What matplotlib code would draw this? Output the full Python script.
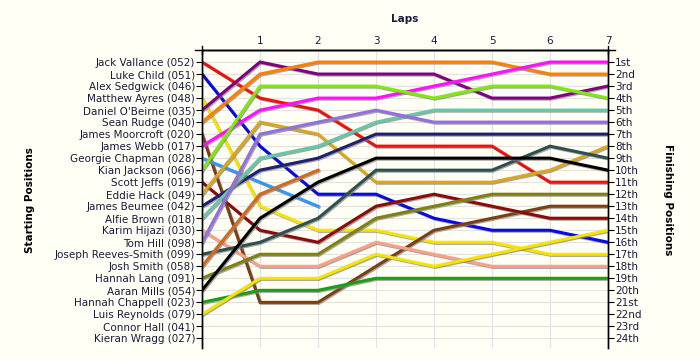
import matplotlib
matplotlib.use("Agg")
import matplotlib.pyplot as plt
import matplotlib.patheffects as pe

# starting grid order (top to bottom)
drivers = [
    "Jack Vallance (052)", "Luke Child (051)", "Alex Sedgwick (046)",
    "Matthew Ayres (048)", "Daniel O'Beirne (035)", "Sean Rudge (040)",
    "James Moorcroft (020)", "James Webb (017)", "Georgie Chapman (028)",
    "Kian Jackson (066)", "Scott Jeffs (019)", "Eddie Hack (049)",
    "James Beumee (042)", "Alfie Brown (018)", "Karim Hijazi (030)",
    "Tom Hill (098)", "Joseph Reeves-Smith (099)", "Josh Smith (058)",
    "Hannah Lang (091)", "Aaran Mills (054)", "Hannah Chappell (023)",
    "Luis Reynolds (079)", "Connor Hall (041)", "Kieran Wragg (027)",
]

finish_labels = ["1st", "2nd", "3rd", "4th", "5th", "6th", "7th", "8th",
                 "9th", "10th", "11th", "12th", "13th", "14th", "15th",
                 "16th", "17th", "18th", "19th", "20th", "21st", "22nd",
                 "23rd", "24th"]

laps = [0, 1, 2, 3, 4, 5, 6, 7]

# position after each lap (lap 0 = grid); shorter lists = retired
pos_vallance  = [1, 4, 5, 8, 8, 8, 11, 11]
pos_child     = [2, 8, 12, 12, 14, 15, 15, 16]
pos_ayres     = [4, 13, 15, 15, 16, 16, 17, 17]
pos_obeirne   = [5, 1, 2, 2, 2, 4, 4, 3]
pos_rudge     = [6, 2, 1, 1, 1, 1, 2, 2]
pos_moorcroft = [7, 21, 21, 18, 15, 14, 13, 13]
pos_webb      = [8, 5, 4, 4, 3, 2, 1, 1]
pos_chapman   = [9, 11, 13]
pos_jackson   = [10, 3, 3, 3, 4, 3, 3, 4]
pos_jeffs     = [11, 15, 16, 13, 12, 13, 14, 14]
pos_hack      = [12, 6, 7, 11, 11, 11, 10, 8]
pos_beumee    = [13, 10, 9, 7, 7, 7, 7, 7]
pos_brown     = [14, 9, 8, 6, 5, 5, 5, 5]
pos_hijazi    = [15, 18, 18, 16, 17, 18, 18, 18]
pos_hill      = [16, 7, 6, 5, 6, 6, 6, 6]
pos_reeves    = [17, 16, 14, 10, 10, 10, 8, 9]
pos_smith     = [18, 12, 10]
pos_lang      = [19, 17, 17, 14, 13, 12, 12, 12]
pos_mills     = [20, 14, 11, 9, 9, 9, 9, 10]
pos_chappell  = [21, 20, 20, 19, 19, 19, 19, 19]
pos_reynolds  = [22, 19, 19, 17, 18, 17, 16, 15]

series = [
    (pos_vallance, "#ee1111"), (pos_child, "#0a0ae0"),
    (pos_ayres, "#f5e400"), (pos_obeirne, "#800080"),
    (pos_rudge, "#ff8000"), (pos_moorcroft, "#7a4013"),
    (pos_webb, "#ff10ff"), (pos_chapman, "#3399ee"),
    (pos_jackson, "#80e810"), (pos_jeffs, "#8b0a0a"),
    (pos_hack, "#daa520"), (pos_beumee, "#202070"),
    (pos_brown, "#66c8a8"), (pos_hijazi, "#f8a088"),
    (pos_hill, "#9370db"), (pos_reeves, "#2f4f4f"),
    (pos_smith, "#d2691e"), (pos_lang, "#808010"),
    (pos_mills, "#000000"), (pos_chappell, "#18a018"),
    (pos_reynolds, "#f5e400"),
]

txt = "#1a1a3a"
bg = "#fffff6"

fig = plt.figure(figsize=(7, 3.6), dpi=100, facecolor=bg)
ax = fig.add_axes([202 / 700, 12 / 360, 406 / 700, 298 / 360], facecolor=bg)

shadow = [pe.SimpleLineShadow(offset=(0.8, -0.8), shadow_color="#808080", alpha=0.7),
          pe.Normal()]
for vals, col in series:
    ax.plot(laps[:len(vals)], vals, color=col, lw=2.2, solid_joinstyle="miter",
            path_effects=shadow, zorder=3)

ax.set_xlim(0, 7)
ax.set_ylim(24.8, 0)

ax.xaxis.tick_top()
ax.xaxis.set_label_position("top")
ax.set_xticks(laps)
ax.set_xticklabels([""] + [str(l) for l in laps[1:]], fontsize=7.5, color=txt)
ax.tick_params(axis="x", length=0, pad=3)
ax.set_xlabel("Laps", fontsize=7.5, fontweight="bold", color=txt, labelpad=10)

ypos = list(range(1, len(drivers) + 1))
ax.set_yticks(ypos)
ax.set_yticklabels(drivers, fontsize=7.5, color=txt)
ax.tick_params(axis="y", length=4, width=0.8, pad=1)

ax2 = ax.twinx()
ax2.set_ylim(24.8, 0)
ax2.set_yticks(ypos)
ax2.set_yticklabels(finish_labels, fontsize=7.5, color=txt)
ax2.tick_params(axis="y", length=4, width=0.8, pad=1)

ax.grid(True, color="#e2e2e2", lw=0.8, zorder=0)
ax.set_axisbelow(True)
for a in (ax, ax2):
    a.spines["bottom"].set_visible(False)
    for s in ("left", "right", "top"):
        a.spines[s].set_linewidth(1.0)

# lap axis runs a little past both ends, with end ticks
ax.plot([-0.12, 7.12], [0, 0], color="black", lw=1, clip_on=False, zorder=5)
ax.plot([0, 0], [-0.3, 0.3], color="black", lw=1, clip_on=False, zorder=5)
ax.plot([7, 7], [-0.3, 0.3], color="black", lw=1, clip_on=False, zorder=5)

fig.text(30 / 700, 1 - 200 / 360, "Starting Positions", rotation=90,
         ha="center", va="center", fontsize=7.5, fontweight="bold", color="black")
fig.text(668 / 700, 1 - 200 / 360, "Finishing Positions", rotation=270,
         ha="center", va="center", fontsize=7.5, fontweight="bold", color="black")

fig.savefig("out.png", dpi=100, facecolor=bg)
